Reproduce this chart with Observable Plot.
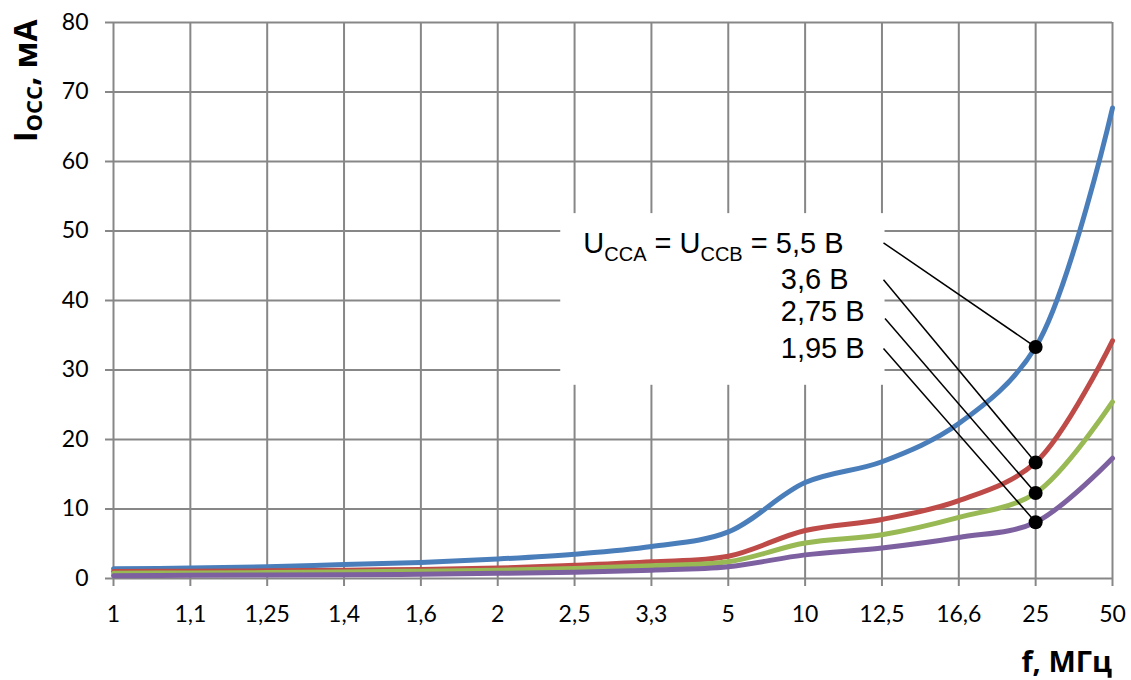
<!DOCTYPE html>
<html><head><meta charset="utf-8">
<script src="https://cdn.jsdelivr.net/npm/d3@7"></script>
<script src="https://cdn.jsdelivr.net/npm/@observablehq/plot@0.6"></script>
<style>body{margin:0;background:#fff} svg{display:block}</style>
</head><body><div id="chart"></div>
<script>
// Categories (frequency, MHz) and tick labels
const freqLabels = ["1","1,1","1,25","1,4","1,6","2","2,5","3,3","5","10","12,5","16,6","25","50"];
// Supply current, mA, for each supply voltage
const i55  = [1.4, 1.5, 1.7, 2.0, 2.3, 2.8, 3.5, 4.6, 6.7, 13.8, 16.8, 22.3, 33.3, 67.7];
const i36  = [1.0, 1.05, 1.1, 1.2, 1.3, 1.5, 1.9, 2.4, 3.2, 6.9, 8.5, 11.2, 16.7, 34.2];
const i275 = [0.75, 0.8, 0.85, 0.95, 1.05, 1.2, 1.45, 1.85, 2.4, 5.1, 6.3, 8.8, 12.3, 25.4];
const i195 = [0.4, 0.45, 0.5, 0.55, 0.6, 0.75, 0.9, 1.2, 1.7, 3.4, 4.4, 5.9, 8.1, 17.3];
const seriesNames = ["5,5 В", "3,6 В", "2,75 В", "1,95 В"];
const seriesColors = ["#4a7ebb", "#be4b48", "#98b954", "#7d60a0"];
const yTicks = [0, 10, 20, 30, 40, 50, 60, 70, 80];
const markerIndex = 12; // callout points at 25 MHz

const seriesValues = [i55, i36, i275, i195];
const data = [];
seriesValues.forEach((arr, s) => arr.forEach((v, i) => data.push({i, v, s: seriesNames[s]})));
const dots = seriesValues.map((arr, s) => ({x: markerIndex, y: arr[markerIndex], s: seriesNames[s]}));
// leader line starts (data units) next to the labels
const leaderStarts = [[10.02, 48.3], [10.02, 43.0], [10.04, 37.4], [10.02, 33.1]];
const leaders = leaderStarts.map((p, k) => ({x1: p[0], y1: p[1], x2: dots[k].x, y2: dots[k].y}));
const labelBox = {x1: 5.82, x2: 10.04, y1: 27.8, y2: 52.5};

const grid = "#878787";
const plot = Plot.plot({
  width: 1131, height: 680,
  marginLeft: 113, marginRight: 19, marginTop: 22, marginBottom: 102,
  style: {fontFamily: "Lato, 'Open Sans', sans-serif", fontSize: "23px", color: "#000", background: "#fff"},
  x: {type: "linear", domain: [0, 13], label: null},
  y: {domain: [0, 80], label: null},
  color: {domain: seriesNames, range: seriesColors},
  marks: [
    Plot.gridX(d3.range(freqLabels.length), {stroke: grid, strokeOpacity: 1, strokeWidth: 2}),
    Plot.gridY(yTicks, {stroke: grid, strokeOpacity: 1, strokeWidth: 2}),
    Plot.axisX(d3.range(freqLabels.length), {tickFormat: i => freqLabels[i], tickSize: 8, tickPadding: 19, stroke: grid, strokeWidth: 2, fill: "#000", label: null}),
    Plot.axisY(yTicks, {tickSize: 8, tickPadding: 17, stroke: grid, strokeWidth: 2, fill: "#000", label: null}),
    Plot.rect([labelBox], {x1: "x1", x2: "x2", y1: "y1", y2: "y2", fill: "#fff"}),
    Plot.line(data, {x: "i", y: "v", z: "s", stroke: "s", strokeWidth: 5, curve: "catmull-rom"}),
    Plot.link(leaders, {x1: "x1", y1: "y1", x2: "x2", y2: "y2", stroke: "#000", strokeWidth: 1.5}),
    Plot.dot(dots, {x: "x", y: "y", r: 7, fill: "#000", stroke: "none"})
  ]
});
document.getElementById("chart").appendChild(plot);

const sx = plot.scale("x").apply, sy = plot.scale("y").apply;
const svg = d3.select(plot);
const lab = "'Liberation Sans', Arial, sans-serif";
// Callout labels
const t0 = svg.append("text").attr("x", sx(6.12)).attr("y", sy(46.8)).attr("text-anchor", "start")
  .attr("font-family", lab).attr("font-size", 29).attr("fill", "#000");
t0.append("tspan").text("U");
t0.append("tspan").attr("font-size", 20).attr("dy", 8).text("CCA");
t0.append("tspan").attr("dy", -8).text(" = U");
t0.append("tspan").attr("font-size", 20).attr("dy", 8).text("CCB");
t0.append("tspan").attr("dy", -8).text(" = " + seriesNames[0]);
const labelY = [41.6, 37.0, 31.7];
[1, 2, 3].forEach((k, j) => {
  svg.append("text").attr("x", sx(8.69)).attr("y", sy(labelY[j])).attr("text-anchor", "start")
    .attr("font-family", lab).attr("font-size", 29).attr("fill", "#000").text(seriesNames[k]);
});
// Axis titles
const yt = svg.append("text").attr("transform", "translate(37,142) rotate(-90)").attr("text-anchor", "start")
  .attr("font-family", "'Open Sans', sans-serif").attr("font-weight", "bold").attr("font-size", 32).attr("fill", "#000");
yt.append("tspan").text("I");
yt.append("tspan").attr("font-size", 22).attr("dy", 5).text("OCC");
yt.append("tspan").attr("dy", -5).text(", мА");
svg.append("text").attr("x", 1112).attr("y", 672).attr("text-anchor", "end")
  .attr("font-family", "'Open Sans', sans-serif").attr("font-weight", "bold").attr("font-size", 29).attr("fill", "#000")
  .text("f, МГц");
</script>
</body></html>
